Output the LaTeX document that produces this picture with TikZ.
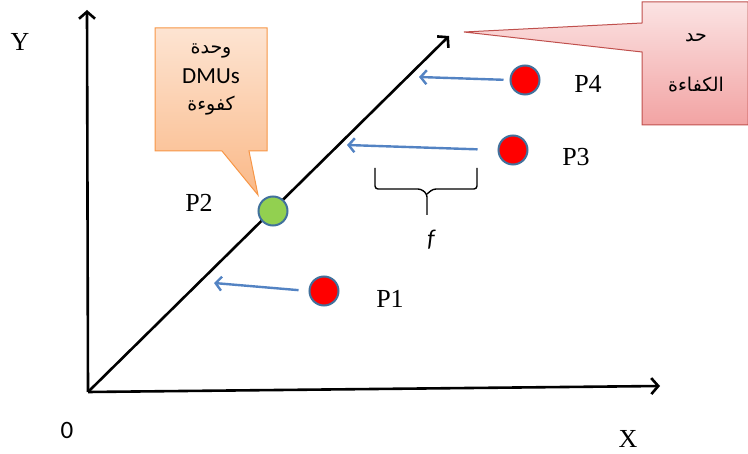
\documentclass[tikz,border=0pt]{standalone}
\usepackage{fontspec}
\setmainfont{Liberation Serif}
\newfontfamily\calibri{Carlito}
\newfontfamily\arabicfont[Script=Arabic]{DejaVu Sans}
\TeXXeTstate=1
\usetikzlibrary{arrows.meta}
\definecolor{ptborder}{HTML}{41719C}
\definecolor{ptred}{HTML}{FF0000}
\definecolor{ptgreen}{HTML}{92D050}
\definecolor{arrowblue}{HTML}{5383C3}
\definecolor{orangeedge}{HTML}{F79646}
\definecolor{orangetop}{HTML}{FDE4D2}
\definecolor{orangebot}{HTML}{FAB988}
\definecolor{pinkedge}{HTML}{C0504D}
\definecolor{pinktop}{HTML}{FBE3E3}
\definecolor{pinkbot}{HTML}{F2A3A3}

\begin{document}
\begin{tikzpicture}[x=1pt,y=-1pt]
	\tikzset{point/.style={circle, draw=ptborder, line width=2pt, minimum size=29pt, inner sep=0pt}};
	\tikzset{axis/.style={line width=2.6pt, -{Straight Barb[length=7pt,width=16pt,line width=2.6pt]}}};
	\tikzset{projarrow/.style={arrowblue, line width=2.4pt, -{Straight Barb[length=6pt,width=14pt,line width=2.4pt]}}};
	\tikzset{plabel/.style={font=\fontsize{26}{30}\selectfont}};
	\tikzset{note/.style={align=center, inner sep=0pt, font=\arabicfont\fontsize{19}{22}\selectfont}};
	\useasboundingbox (0,0) rectangle (748,454);
	% axes
	\coordinate (O) at (88,392);
	\coordinate (ytop) at (87,10);
	\coordinate (xend) at (660,386);
	\coordinate (front) at (449,36);
	\draw[axis] (O) -- (ytop);
	\draw[axis] (O) -- (xend);
	\draw[axis] (O) -- (front);
	\node[plabel] (ylab) at (20,42) {Y};
	\node[plabel] (xlab) at (628,439) {X};
	\node[font=\calibri\fontsize{25}{28}\selectfont] (olab) at (67,430) {0};
	% units
	\node[point, fill=ptred] (p1) at (324,291) {};
	\node[point, fill=ptgreen] (p2) at (273,211) {};
	\node[point, fill=ptred] (p3) at (513,150) {};
	\node[point, fill=ptred] (p4) at (525,80) {};
	\node[plabel] (l1) at (390,299) {P1};
	\node[plabel] (l2) at (199,203) {P2};
	\node[plabel] (l3) at (576,157) {P3};
	\node[plabel] (l4) at (588,84) {P4};
	% projections onto the frontier
	\coordinate (t1) at (214,283);
	\coordinate (t3) at (347,145);
	\coordinate (t4) at (419,77);
	\draw[projarrow, shorten <=10pt] (p1.west) -- (t1);
	\draw[projarrow, shorten <=20pt] (p3.west) -- (t3);
	\draw[projarrow, shorten <=6pt] (p4.west) -- (t4);
	% brace
	\draw[line width=1.4pt, rounded corners=3pt] (375,168) |- (421,189) -- (427,194) -- (427,215);
	\draw[line width=1.4pt, rounded corners=3pt] (427,194) -- (433,189) -| (477,168);
	\node[font=\calibri\itshape\fontsize{24}{28}\selectfont] (flab) at (431,240) {f};
	% callouts
	\coordinate (dmutip) at (258,195);
	\coordinate (edge) at (464,32);
	\draw[orangeedge, line width=1pt, top color=orangetop, bottom color=orangebot]
		(155,28) -- (267,28) -- (267,151) -- (249,151) -- (dmutip) -- (222,151) -- (155,151) -- cycle;
	\node[note] (dmu) at (211,79)
		{\beginR وحدة\endR\\[8pt]{\calibri\fontsize{23}{26}\selectfont DMUs}\\[5pt]\beginR كفوءة\endR};
	\draw[pinkedge, line width=1pt, top color=pinktop, bottom color=pinkbot]
		(642,2) -- (748,2) -- (748,125) -- (642,125) -- (642,52) -- (edge) -- (642,23) -- cycle;
	\node[note] (frontier) at (696,63)
		{\beginR حد\endR\\[28pt]\beginR الكفاءة\endR};
\end{tikzpicture}
\end{document}
